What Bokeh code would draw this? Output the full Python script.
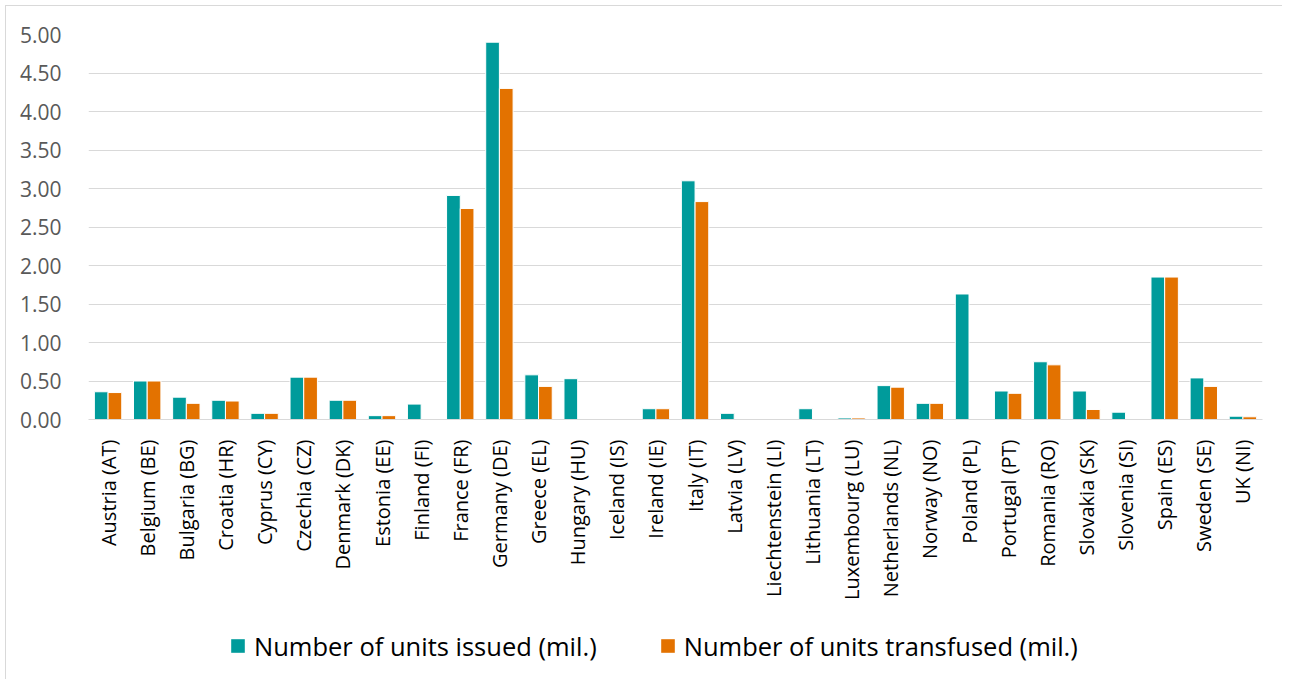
import math
from bokeh.plotting import figure
from bokeh.layouts import column
from bokeh.models import (ColumnDataSource, FactorRange, Range1d, FixedTicker,
                          PrintfTickFormatter, Legend, LegendItem)
from bokeh.transform import dodge
from bokeh.embed import file_html
from bokeh.resources import INLINE

countries = ["Austria (AT)", "Belgium (BE)", "Bulgaria (BG)", "Croatia (HR)", "Cyprus (CY)",
             "Czechia (CZ)", "Denmark (DK)", "Estonia (EE)", "Finland (FI)", "France (FR)",
             "Germany (DE)", "Greece (EL)", "Hungary (HU)", "Iceland (IS)", "Ireland (IE)",
             "Italy (IT)", "Latvia (LV)", "Liechtenstein (LI)", "Lithuania (LT)", "Luxembourg (LU)",
             "Netherlands (NL)", "Norway (NO)", "Poland (PL)", "Portugal (PT)", "Romania (RO)",
             "Slovakia (SK)", "Slovenia (SI)", "Spain (ES)", "Sweden (SE)", "UK (NI)"]

issued = [0.36, 0.50, 0.29, 0.25, 0.08, 0.55, 0.25, 0.05, 0.20, 2.91,
          4.90, 0.58, 0.53, 0.005, 0.14, 3.10, 0.08, 0.0, 0.14, 0.02,
          0.44, 0.21, 1.63, 0.37, 0.75, 0.37, 0.095, 1.85, 0.54, 0.043]

transfused = [0.35, 0.50, 0.21, 0.24, 0.08, 0.55, 0.25, 0.05, 0.0, 2.74,
              4.30, 0.43, 0.0, 0.005, 0.14, 2.83, 0.0, 0.0, 0.0, 0.02,
              0.42, 0.21, 0.0, 0.34, 0.71, 0.13, 0.0, 1.85, 0.43, 0.035]

y_ticks = [0, 0.5, 1.0, 1.5, 2.0, 2.5, 3.0, 3.5, 4.0, 4.5, 5.0]

series_names = ["Number of units issued (mil.)", "Number of units transfused (mil.)"]
TEAL = "#009B9B"
ORANGE = "#E37200"

source = ColumnDataSource(data=dict(country=countries, issued=issued, transfused=transfused))

p = figure(x_range=FactorRange(*countries), y_range=Range1d(0, 5),
           frame_width=1174, frame_height=385, output_backend="svg", toolbar_location=None,
           min_border_left=82, min_border_right=20, min_border_top=28, min_border_bottom=193)
p.outline_line_color = None

r1 = p.vbar(x=dodge("country", -0.175, range=p.x_range), top="issued", width=0.35,
            source=source, fill_color=TEAL, line_color="white", line_width=1)
r2 = p.vbar(x=dodge("country", 0.175, range=p.x_range), top="transfused", width=0.35,
            source=source, fill_color=ORANGE, line_color="white", line_width=1)

p.xgrid.grid_line_color = None
p.ygrid.grid_line_color = "#d9d9d9"
p.ygrid.grid_line_width = 1

p.yaxis.ticker = FixedTicker(ticks=y_ticks)
p.yaxis.formatter = PrintfTickFormatter(format="%.2f")
p.yaxis.axis_line_color = None
p.yaxis.major_tick_line_color = None
p.yaxis.minor_tick_line_color = None
p.yaxis.major_label_text_font = "Open Sans"
p.yaxis.major_label_text_font_size = "21px"
p.yaxis.major_label_text_color = "#595959"
p.yaxis.major_label_standoff = 21

p.xaxis.axis_line_color = "#d9d9d9"
p.xaxis.axis_line_width = 1
p.xaxis.major_tick_line_color = None
p.xaxis.minor_tick_line_color = None
p.xaxis.major_label_orientation = math.pi / 2
p.xaxis.major_label_text_font = "Open Sans"
p.xaxis.major_label_text_font_size = "20px"
p.xaxis.major_label_text_color = "#000000"
p.xaxis.major_label_standoff = 14

# Legend in its own strip below the chart
leg = figure(width=1274, height=67, x_range=Range1d(0, 1), y_range=Range1d(0, 1),
             output_backend="svg", toolbar_location=None,
             min_border_left=0, min_border_right=0, min_border_top=0, min_border_bottom=0)
leg.axis.visible = False
leg.grid.visible = False
leg.outline_line_color = None
e1 = leg.vbar(x=[0.5], top=[0], bottom=[0], width=0.01, fill_color=TEAL, line_alpha=0)
e2 = leg.vbar(x=[0.5], top=[0], bottom=[0], width=0.01, fill_color=ORANGE, line_alpha=0)

legend = Legend(items=[LegendItem(label=series_names[0], renderers=[e1]),
                       LegendItem(label=series_names[1], renderers=[e2])],
                orientation="horizontal", location="left",
                padding=0, margin=141, spacing=62,
                glyph_width=17, glyph_height=17, label_standoff=8,
                label_text_font="Open Sans", label_text_font_size="25.5px",
                label_text_color="#000000",
                border_line_color=None, background_fill_alpha=0)
leg.add_layout(legend, "center")

layout = column(p, leg, spacing=0, margin=(5, 0, 0, 5))
layout.styles = {"border-top": "1px solid #d9d9d9", "border-left": "1px solid #d9d9d9"}

open("out.html", "w").write(file_html(layout, INLINE))
